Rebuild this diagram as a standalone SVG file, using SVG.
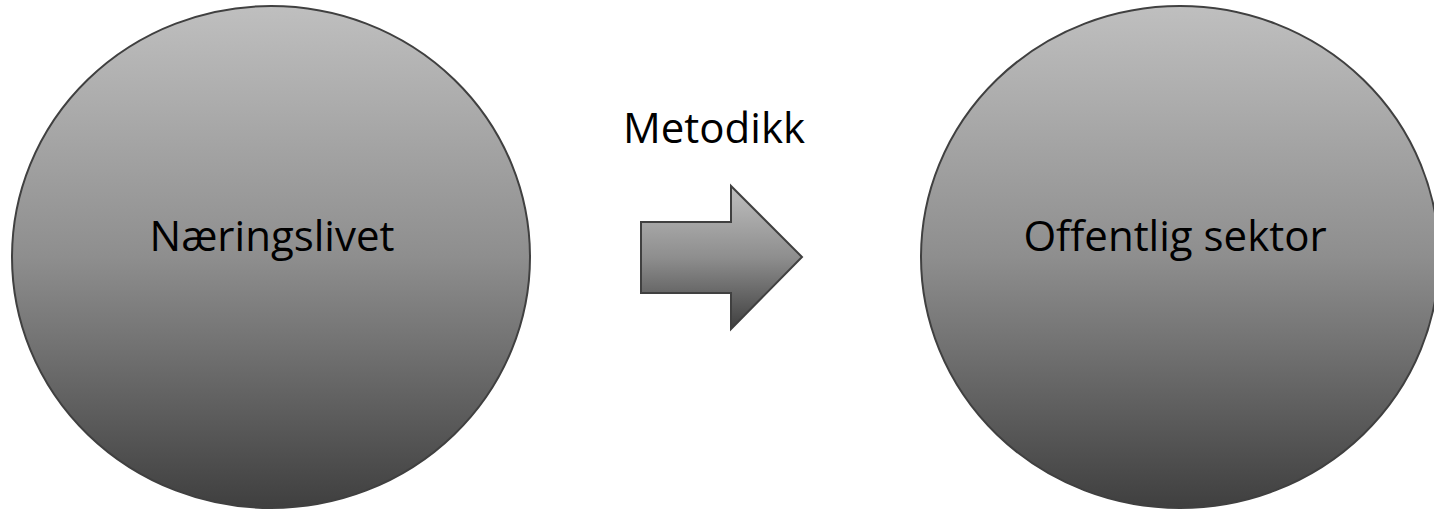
<svg xmlns="http://www.w3.org/2000/svg" width="1434" height="512" viewBox="0 0 1434 512">
<defs>
<linearGradient id="g" x1="0" y1="0" x2="0" y2="1">
<stop offset="0" stop-color="#bfbfbf"/>
<stop offset="0.5" stop-color="#8e8e8e"/>
<stop offset="1" stop-color="#3f3f3f"/>
</linearGradient>
</defs>
<style>
.shape{fill:url(#g);stroke:#404040;stroke-width:2}
.lbl{font-family:"Open Sans","Liberation Sans",sans-serif;font-size:42px;fill:#000;text-anchor:middle}
</style>
<g id="node-naeringslivet">
<ellipse class="shape" cx="271" cy="257" rx="259" ry="251"/>
<text class="lbl" x="272" y="251">Næringslivet</text>
</g>
<g id="node-offentlig">
<ellipse class="shape" cx="1180" cy="257" rx="259" ry="251"/>
<text class="lbl" x="1175" y="251">Offentlig sektor</text>
</g>
<g id="connectors">
<g id="arrow-metodikk">
<polygon class="shape" points="641,222 731,222 731,186 802,257 731,329 731,293 641,293"/>
<text class="lbl" x="714" y="143">Metodikk</text>
</g>
</g>
</svg>
